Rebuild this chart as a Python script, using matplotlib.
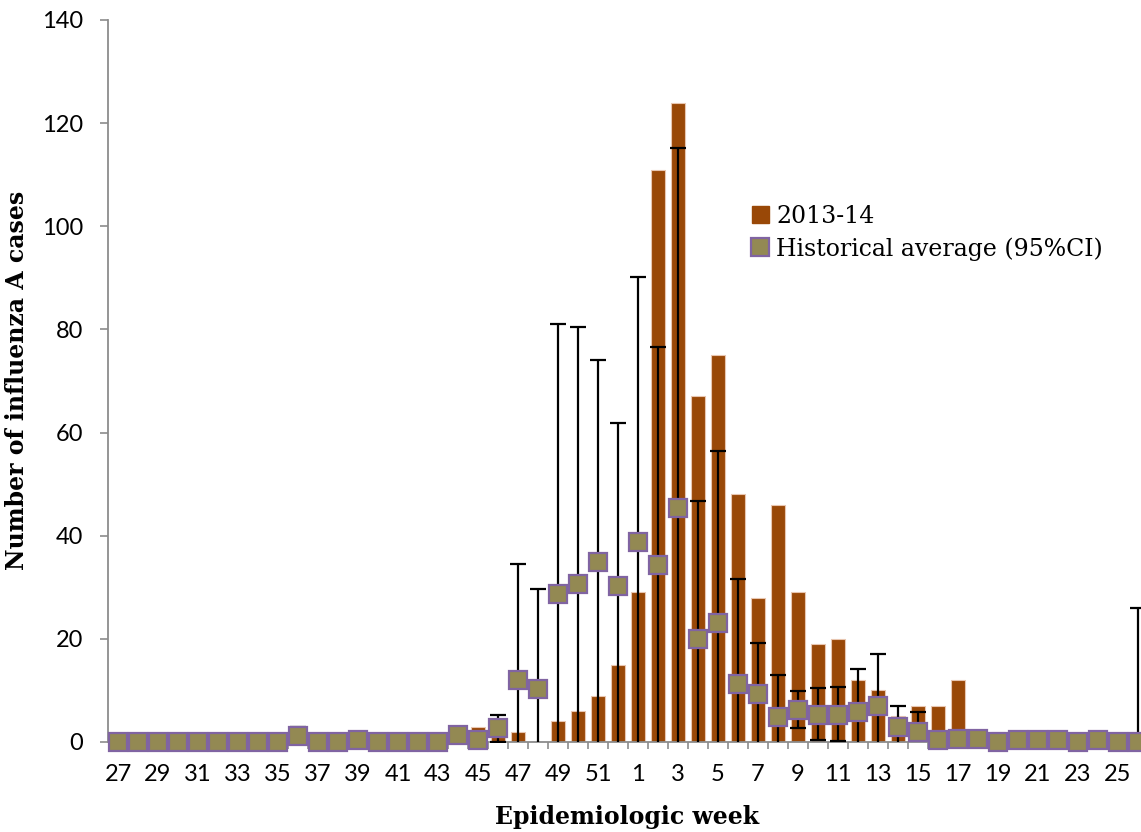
"""
Influenza A cases per epidemiologic week: 2013-14 season vs. historical average.
"""
import numpy as np
import matplotlib
matplotlib.use("Agg")
import matplotlib.pyplot as plt
import matplotlib.patches as mpatches
from matplotlib.lines import Line2D

# ── Daten ────────────────────────────────────────────────────────────────────
weeks = list(range(27, 53)) + list(range(1, 27))

cases_2013_14 = [0, 0, 0, 0, 0, 0, 0, 0, 0, 0, 0, 0, 0, 0, 0, 0, 0, 0,
                 3, 1, 2, 0, 4, 6, 9, 15,
                 29, 111, 124, 67, 75, 48, 28, 46, 29, 19, 20, 12, 10, 5, 7, 7, 12,
                 0, 2, 0, 0, 0, 0, 0, 0, 0]

hist_avg = [0, 0, 0, 0, 0, 0, 0, 0, 0, 1.1, 0, 0, 0.4, 0, 0, 0, 0, 1.4,
            0.4, 2.7, 12.0, 10.3, 28.7, 30.6, 35.0, 30.3,
            38.7, 34.3, 45.3, 20.0, 23.0, 11.2, 9.3, 4.9, 6.2, 5.3, 5.3, 5.9, 7.0,
            3.0, 2.0, 0.3, 0.6, 0.6, 0, 0.3, 0.3, 0.3, 0, 0.3, 0, 0]

nan = np.nan
ci_upper = [nan, nan, nan, nan, nan, nan, nan, nan, nan, 2.9, nan, nan, nan,
            nan, nan, nan, nan, 3.0,
            nan, 5.2, 34.5, 29.6, 81.1, 80.4, 74.1, 61.9,
            90.2, 76.5, 115.2, 46.7, 56.4, 31.6, 19.1, 12.9, 9.8, 10.4, 10.7,
            14.2, 17.1, 7.0, 5.8, nan, nan, nan, nan, nan, nan, nan, nan, nan,
            nan, 25.9]

ci_lower = [nan, nan, nan, nan, nan, nan, nan, nan, nan, -1, nan, nan, nan,
            nan, nan, nan, nan, -1,
            nan, 0.0, -10, -9, -24, -19, -4, -1,
            -13, -8, -25, -7, -10, -9, -0.5, -3, 2.8, 0.3, 0.1,
            -2, -3, -1, -1.8, nan, nan, nan, nan, nan, nan, nan, nan, nan,
            nan, -26]

# ── Farben ───────────────────────────────────────────────────────────────────
BAR_COLOR = "#994807"
MARK_FILL = "#938953"
MARK_EDGE = "#8064A2"
AXIS_GRAY = "#8c8c8c"

TICK_FONT = "Lato"
SERIF = "DejaVu Serif"

x = np.arange(len(weeks))
avg = np.array(hist_avg)
up = np.array(ci_upper)
lo = np.array(ci_lower)
has_ci = ~np.isnan(up)

fig = plt.figure(figsize=(11.41, 8.32), dpi=100)
W, H = 1141, 832
ax = fig.add_axes([108 / W, 90 / H, 1040 / W, 722 / H])

ax.bar(x, cases_2013_14, width=0.74, color=BAR_COLOR,
       edgecolor="#e8c6b0", linewidth=0.8, zorder=2)

ax.errorbar(x[has_ci], avg[has_ci],
            yerr=[avg[has_ci] - lo[has_ci], up[has_ci] - avg[has_ci]],
            fmt="none", ecolor="black", elinewidth=1.6, capsize=6,
            capthick=1.6, zorder=3)

ax.plot(x, avg, ls="none", marker="s", markersize=12.5,
        markerfacecolor=MARK_FILL, markeredgecolor=MARK_EDGE,
        markeredgewidth=1.6, zorder=4, clip_on=False)

ax.set_xlim(-0.5, len(weeks) - 0.5)
ax.set_ylim(0, 140)

# Achsen im Excel-Stil
for side in ("top", "right"):
    ax.spines[side].set_visible(False)
for side in ("left", "bottom"):
    ax.spines[side].set_color(AXIS_GRAY)
    ax.spines[side].set_linewidth(1.3)

ax.set_yticks(range(0, 141, 20))
ax.tick_params(axis="y", direction="out", length=6, width=1.2,
               color=AXIS_GRAY, pad=12, labelsize=17)

ax.set_xticks(x[::2])
ax.set_xticklabels([str(w) for w in weeks[::2]])
ax.set_xticks(x + 0.5, minor=True)
ax.tick_params(axis="x", which="major", length=0, pad=16, labelsize=17)
ax.tick_params(axis="x", which="minor", direction="out", length=5,
               width=1.2, color=AXIS_GRAY)
for lab in ax.get_xticklabels() + ax.get_yticklabels():
    lab.set_fontfamily(TICK_FONT)

fig.text(627 / W, 1 - 817 / H, "Epidemiologic week", ha="center", va="center",
         fontsize=17, fontweight="bold", family=SERIF)
fig.text(17 / W, 1 - 380 / H, "Number of influenza A cases", ha="center",
         va="center", rotation=90, fontsize=17, fontweight="bold", family=SERIF)

# ── Legende ──────────────────────────────────────────────────────────────────
h_bar = mpatches.Patch(facecolor=BAR_COLOR, edgecolor=BAR_COLOR, label="2013-14")
h_avg = Line2D([], [], ls="none", marker="s", markersize=13,
               markerfacecolor=MARK_FILL, markeredgecolor=MARK_EDGE,
               markeredgewidth=1.6, label="Historical average (95%CI)")
fig.legend(handles=[h_bar, h_avg], loc="upper left",
           bbox_to_anchor=(735 / W, 1 - 188 / H), frameon=False,
           prop={"family": SERIF, "size": 17}, handlelength=0.75,
           handleheight=0.75, handletextpad=0.3, labelspacing=0.4,
           borderpad=0.2)

fig.savefig("out.png", dpi=100)
